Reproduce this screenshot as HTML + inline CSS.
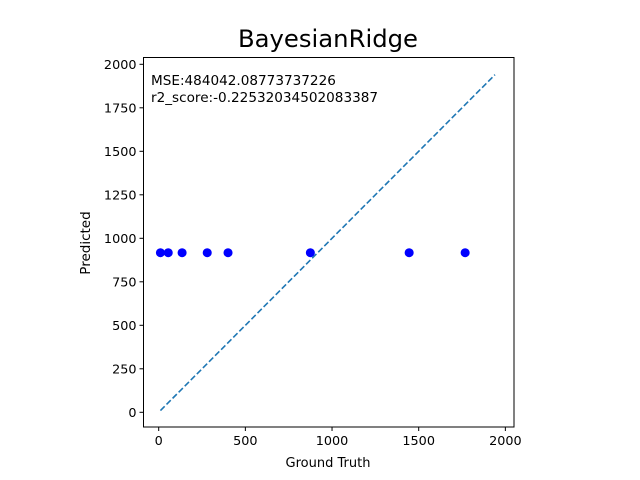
<!DOCTYPE html>
<html><head><meta charset="utf-8"><style>body{margin:0;background:#fff}svg{display:block;font-family:"DejaVu Sans","Liberation Sans",sans-serif}</style></head>
<body>
<svg id="c" width="640" height="480"></svg>
<script>
const truth=[10,55,135,280,400,875,1445,1768];
const predicted=[917,917,917,917,917,917,917,917];
const lineRange=[10,1940];
const xTicks=[0,500,1000,1500,2000];
const yTicks=[0,250,500,750,1000,1250,1500,1750,2000];
const title="BayesianRidge";
const mseText="MSE:484042.08773737226";
const r2Text="r2_score:-0.22532034502083387";
const NS="http://www.w3.org/2000/svg";
const svg=document.getElementById('c');
const L=143.5,R=514,T=57.5,B=427;
const xs=v=>158.7+v*0.17333;
const ys=v=>412.3-v*0.174;
function mk(t,a,txt){const e=document.createElementNS(NS,t);for(const k in a)e.setAttribute(k,a[k]);if(txt!=null)e.textContent=txt;svg.appendChild(e);return e;}
let e=mk('text',{x:328,y:47,'text-anchor':'middle','font-size':24.3},title);


e=mk('rect',{x:L,y:T,width:R-L,height:B-T,fill:'none',stroke:'#000','stroke-width':1});


xTicks.forEach(v=>{const x=xs(v);
 let t=mk('line',{x1:x,x2:x,y1:B,y2:B+4,stroke:'#000'});
 
 
 t=mk('text',{x:x,y:B+18,'text-anchor':'middle','font-size':12.8},v);
 
 });
yTicks.forEach(v=>{const y=ys(v);
 let t=mk('line',{x1:L-4,x2:L,y1:y,y2:y,stroke:'#000'});
 
 
 t=mk('text',{x:L-7,y:y+4.5,'text-anchor':'end','font-size':12.8},v);
 
 });
e=mk('text',{x:328,y:467,'text-anchor':'middle','font-size':13},'Ground Truth');


e=mk('text',{x:90,y:243,'text-anchor':'middle','font-size':13.5,transform:'rotate(-90 90 243)'},'Predicted');


e=mk('line',{x1:xs(lineRange[0]),y1:ys(lineRange[0]),x2:xs(lineRange[1]),y2:ys(lineRange[1]),stroke:'#1f77b4','stroke-width':1.6,'stroke-dasharray':'6,2.6'});


truth.forEach((v,i)=>{const p=mk('circle',{cx:xs(v),cy:ys(predicted[i]),r:4.5,fill:'#0000ff'});
 
 });
e=mk('text',{x:151,y:85,'font-size':13.6},mseText);


e=mk('text',{x:151,y:102,'font-size':13.6},r2Text);


</script>
</body></html>
